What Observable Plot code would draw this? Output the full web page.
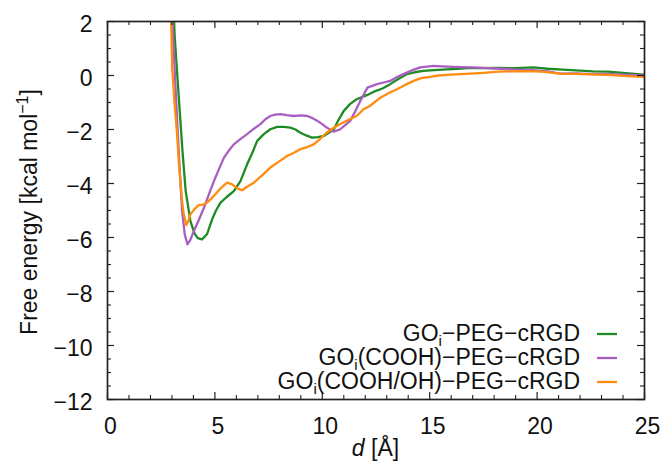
<!DOCTYPE html>
<html><head><meta charset="utf-8">
<script src="https://cdn.jsdelivr.net/npm/d3@7"></script>
<script src="https://cdn.jsdelivr.net/npm/@observablehq/plot@0.6"></script>
<style>
body{margin:0;background:#fff}
svg{font-family:"Liberation Sans",Arial,Helvetica,sans-serif}
</style>
</head><body><div id="chart"></div>
<script>
// ---- data ----
const seriesNames = ["GOi−PEG−cRGD", "GOi(COOH)−PEG−cRGD", "GOi(COOH/OH)−PEG−cRGD"];
const seriesColors = ["#1f8b24", "#a95fc2", "#ff8c0f"];

const greenX = [3.08,3.12,3.33,3.49,3.64,3.86,4.05,4.2,4.4,4.63,4.87,5.05,5.26,5.55,5.88,6.19,6.5,6.75,6.97,7.28,7.58,7.9,8.2,8.51,8.75,8.98,9.25,9.52,9.8,10.07,10.3,10.54,10.75,11.0,11.3,11.6,12.1,12.4,12.8,13.16,13.5,13.93,14.3,14.7,15.2,15.8,16.3,16.88,17.5,18.2,19.0,19.8,20.5,21.2,22.0,22.6,23.3,23.86,24.4,25];
const greenY = [2.6,1.54,-0.94,-2.79,-4.28,-5.39,-5.85,-6.02,-6.07,-5.88,-5.33,-5.0,-4.71,-4.5,-4.28,-3.91,-3.29,-2.85,-2.42,-2.17,-1.99,-1.9,-1.9,-1.93,-2.0,-2.12,-2.22,-2.3,-2.28,-2.24,-2.12,-1.99,-1.65,-1.31,-1.05,-0.88,-0.72,-0.6,-0.48,-0.32,-0.15,0.05,0.12,0.17,0.2,0.23,0.25,0.28,0.27,0.28,0.27,0.3,0.25,0.22,0.18,0.15,0.14,0.11,0.07,0.03];

const purpleX = [3.0,3.05,3.2,3.35,3.47,3.6,3.72,3.85,4.02,4.25,4.49,4.72,4.96,5.2,5.42,5.65,5.88,6.2,6.5,6.8,7.12,7.35,7.58,7.8,8.05,8.35,8.67,9.0,9.3,9.55,9.76,10.0,10.2,10.54,10.84,11.05,11.3,11.55,11.77,12.1,12.55,12.9,13.16,13.5,13.78,14.2,14.56,15.18,15.6,16.1,16.88,17.5,18.3,19.0,19.8,20.5,21.07,21.8,22.5,23.2,24.0,25];
const purpleY = [2.6,1.5,-1.0,-3.3,-5.0,-5.9,-6.25,-6.1,-5.76,-5.35,-4.9,-4.4,-3.9,-3.45,-3.04,-2.78,-2.55,-2.35,-2.17,-1.98,-1.8,-1.62,-1.5,-1.45,-1.43,-1.47,-1.5,-1.48,-1.5,-1.58,-1.68,-1.8,-1.93,-2.08,-1.99,-1.85,-1.68,-1.3,-0.94,-0.45,-0.32,-0.25,-0.2,-0.05,0.05,0.2,0.3,0.36,0.34,0.32,0.3,0.28,0.25,0.22,0.2,0.15,0.07,0.08,0.05,0.06,0.03,0.0];

const orangeX = [2.95,3.01,3.12,3.24,3.32,3.4,3.48,3.55,3.67,3.78,3.86,4.05,4.25,4.45,4.63,4.85,5.02,5.3,5.57,5.8,6.05,6.26,6.5,6.81,7.2,7.58,8.0,8.36,8.7,8.98,9.3,9.6,9.9,10.2,10.5,10.84,11.2,11.6,11.92,12.23,12.7,13.1,13.47,13.9,14.25,14.6,15.02,15.4,15.8,16.4,16.88,17.5,18.2,18.74,19.5,20.2,21.07,21.8,22.5,23.3,24.2,25];
const orangeY = [2.6,0.29,-1.0,-2.17,-3.2,-4.0,-4.7,-5.14,-5.54,-5.35,-5.14,-4.95,-4.8,-4.78,-4.71,-4.55,-4.4,-4.15,-3.97,-4.03,-4.18,-4.25,-4.12,-3.97,-3.7,-3.41,-3.18,-2.98,-2.85,-2.73,-2.65,-2.55,-2.35,-2.12,-1.95,-1.8,-1.65,-1.5,-1.25,-1.12,-0.82,-0.65,-0.51,-0.33,-0.2,-0.1,-0.05,0.0,0.02,0.05,0.07,0.1,0.14,0.15,0.16,0.14,0.07,0.06,0.04,0.02,-0.02,-0.05];

const xMajorTicks = [0, 5, 10, 15, 20, 25];
const xMinorTicks = d3.range(0, 26, 1).filter(v => v % 5 !== 0);
const yMajorTicks = [-12, -10, -8, -6, -4, -2, 0, 2];
const yMinorTicks = d3.range(-12, 2.01, 0.5).filter(v => v % 2 !== 0);

// ---- build table ----
const seriesXs = [greenX, purpleX, orangeX];
const seriesYs = [greenY, purpleY, orangeY];
const rows = [];
seriesNames.forEach((name, i) => {
  seriesXs[i].forEach((x, j) => rows.push({series: name, d: x, g: seriesYs[i][j]}));
});

const W = 662, H = 470;
const mL = 107, mR = 18, mT = 21, mB = 71;
const plotW = W - mL - mR, plotH = H - mT - mB;
const fmt = v => (v < 0 ? "\u2212" + Math.abs(v) : String(v));
const ink = "#222";

const chart = Plot.plot({
  width: W, height: H,
  marginLeft: mL, marginRight: mR, marginTop: mT, marginBottom: mB,
  style: {fontFamily: '"Liberation Sans", Arial, sans-serif', background: "#fff"},
  x: {domain: [0, 25]},
  y: {domain: [-12, 2]},
  color: {domain: seriesNames, range: seriesColors},
  marks: [
    Plot.line(rows, {x: "d", y: "g", z: "series", stroke: "series", strokeWidth: 2.3, clip: true, curve: "linear"}),
    // inward ticks (gnuplot style, mirrored)
    Plot.ruleY(yMajorTicks, {y: d => d, insetRight: plotW - 7, stroke: ink, strokeWidth: 1.2}),
    Plot.ruleY(yMajorTicks, {y: d => d, insetLeft: plotW - 7, stroke: ink, strokeWidth: 1.2}),
    Plot.ruleY(yMinorTicks, {y: d => d, insetRight: plotW - 4, stroke: ink, strokeWidth: 1.1}),
    Plot.ruleY(yMinorTicks, {y: d => d, insetLeft: plotW - 4, stroke: ink, strokeWidth: 1.1}),
    Plot.ruleX(xMajorTicks, {x: d => d, insetTop: plotH - 7, stroke: ink, strokeWidth: 1.2}),
    Plot.ruleX(xMajorTicks, {x: d => d, insetBottom: plotH - 7, stroke: ink, strokeWidth: 1.2}),
    Plot.ruleX(xMinorTicks, {x: d => d, insetTop: plotH - 4, stroke: ink, strokeWidth: 1.1}),
    Plot.ruleX(xMinorTicks, {x: d => d, insetBottom: plotH - 4, stroke: ink, strokeWidth: 1.1}),
    Plot.axisX({ticks: xMajorTicks, tickSize: 0, tickPadding: 18, dx: 3, fontSize: 23, label: null, tickFormat: fmt, fill: "#111"}),
    Plot.axisY({ticks: yMajorTicks, tickSize: 0, tickPadding: 15, dy: 3, fontSize: 23, label: null, tickFormat: fmt, fill: "#111"}),
    Plot.frame({stroke: ink, strokeWidth: 1.7})
  ]
});

document.getElementById("chart").appendChild(chart);

// ---- axis labels and legend (rich text) ----
const svg = d3.select(chart);
const FS = 23;

// y label
const yl = svg.append("text")
  .attr("transform", `translate(37,${mT + plotH / 2 + 2}) rotate(-90)`)
  .attr("text-anchor", "middle").attr("font-size", FS).attr("fill", "#111");
yl.append("tspan").text("Free energy [kcal mol");
yl.append("tspan").attr("font-size", 16).attr("dy", -9).text("\u22121");
yl.append("tspan").attr("dy", 9).text("]");

// x label
const xl = svg.append("text")
  .attr("x", mL + plotW / 2).attr("y", 456)
  .attr("text-anchor", "middle").attr("font-size", FS).attr("fill", "#111");
xl.append("tspan").attr("font-style", "italic").text("d");
xl.append("tspan").text(" [\u00C5]");

// legend
const legX = mL + plotW - 64;
const legBase = [mT + plotH - 58, mT + plotH - 34, mT + plotH - 10];
seriesNames.forEach((name, i) => {
  const rest = name.slice(3);
  const t = svg.append("text").attr("x", legX).attr("y", legBase[i])
    .attr("text-anchor", "end").attr("font-size", FS).attr("fill", "#111");
  t.append("tspan").text("GO");
  t.append("tspan").attr("font-size", 15).attr("dy", 5).text("i");
  t.append("tspan").attr("dy", -5).text(rest);
  svg.append("line")
    .attr("x1", legX + 17).attr("x2", legX + 37)
    .attr("y1", legBase[i] - 7).attr("y2", legBase[i] - 7)
    .attr("stroke", seriesColors[i]).attr("stroke-width", 2.3);
});
</script>
</body></html>
